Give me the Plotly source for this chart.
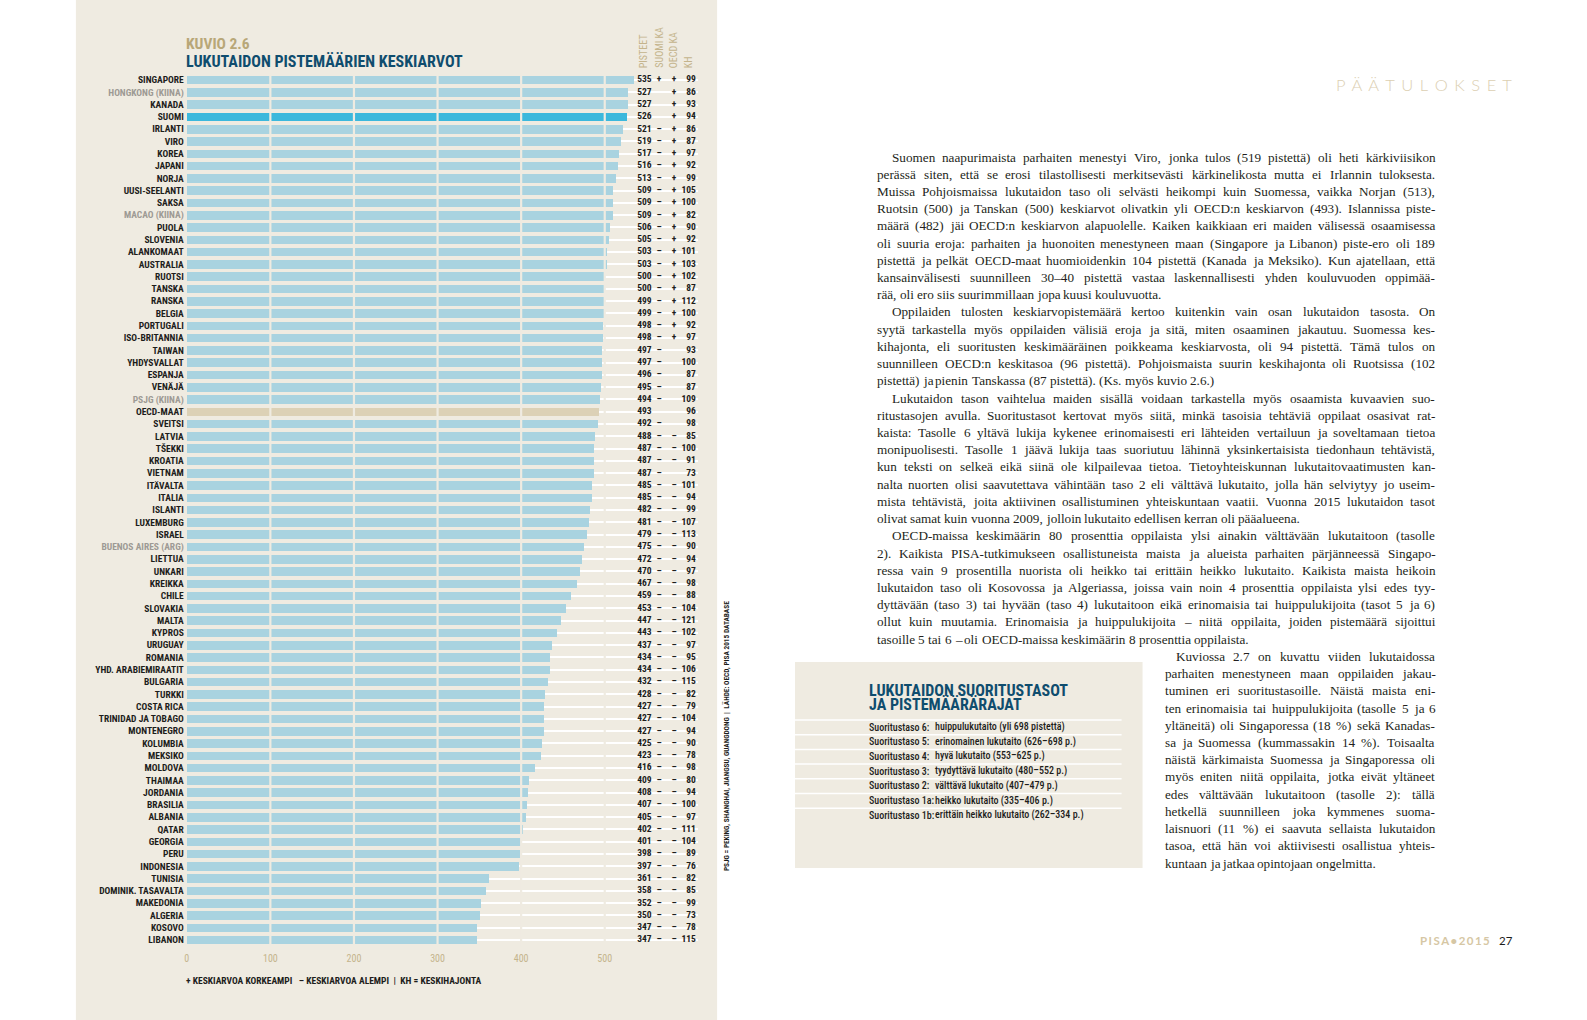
import plotly.graph_objects as go

# ---------------- data ----------------
countries = [
    "SINGAPORE", "HONGKONG (KIINA)", "KANADA", "SUOMI", "IRLANTI", "VIRO", "KOREA", "JAPANI",
    "NORJA", "UUSI-SEELANTI", "SAKSA", "MACAO (KIINA)", "PUOLA", "SLOVENIA", "ALANKOMAAT",
    "AUSTRALIA", "RUOTSI", "TANSKA", "RANSKA", "BELGIA", "PORTUGALI", "ISO-BRITANNIA",
    "TAIWAN", "YHDYSVALLAT", "ESPANJA", "VENÄJÄ", "PSJG (KIINA)", "OECD-MAAT", "SVEITSI",
    "LATVIA", "TŠEKKI", "KROATIA", "VIETNAM", "ITÄVALTA", "ITALIA", "ISLANTI", "LUXEMBURG",
    "ISRAEL", "BUENOS AIRES (ARG)", "LIETTUA", "UNKARI", "KREIKKA", "CHILE", "SLOVAKIA",
    "MALTA", "KYPROS", "URUGUAY", "ROMANIA", "YHD. ARABIEMIRAATIT", "BULGARIA", "TURKKI",
    "COSTA RICA", "TRINIDAD JA TOBAGO", "MONTENEGRO", "KOLUMBIA", "MEKSIKO", "MOLDOVA",
    "THAIMAA", "JORDANIA", "BRASILIA", "ALBANIA", "QATAR", "GEORGIA", "PERU", "INDONESIA",
    "TUNISIA", "DOMINIK. TASAVALTA", "MAKEDONIA", "ALGERIA", "KOSOVO", "LIBANON",
]
scores = [
    535, 527, 527, 526, 521, 519, 517, 516, 513, 509, 509, 509, 506, 505, 503, 503, 500, 500,
    499, 499, 498, 498, 497, 497, 496, 495, 494, 493, 492, 488, 487, 487, 487, 485, 485, 482,
    481, 479, 475, 472, 470, 467, 459, 453, 447, 443, 437, 434, 434, 432, 428, 427, 427, 427,
    425, 423, 416, 409, 408, 407, 405, 402, 401, 398, 397, 361, 358, 352, 350, 347, 347,
]
suomi_cmp = (["+", "", "", ""] + ["–"] * 23 + [""] + ["–"] * 43)
oecd_cmp = (["+"] * 22 + [""] * 7 + ["–"] * 3 + [""] + ["–"] * 38)
kh = [
    99, 86, 93, 94, 86, 87, 97, 92, 99, 105, 100, 82, 90, 92, 101, 103, 102, 87, 112, 100,
    92, 97, 93, 100, 87, 87, 109, 96, 98, 85, 100, 91, 73, 101, 94, 99, 107, 113, 90, 94,
    97, 98, 88, 104, 121, 102, 97, 95, 106, 115, 82, 79, 104, 94, 90, 78, 98, 80, 94, 100,
    97, 111, 104, 89, 76, 82, 85, 99, 73, 78, 115,
]
region_rows = ["HONGKONG (KIINA)", "MACAO (KIINA)", "PSJG (KIINA)", "BUENOS AIRES (ARG)"]
x_ticks = [0, 100, 200, 300, 400, 500]
column_headers = ["PISTEET", "SUOMI KA", "OECD KA", "KH"]

levels = ["Suoritustaso 6:", "Suoritustaso 5:", "Suoritustaso 4:", "Suoritustaso 3:",
          "Suoritustaso 2:", "Suoritustaso 1a:", "Suoritustaso 1b:"]
level_desc = ["huippulukutaito (yli 698 pistettä)", "erinomainen lukutaito (626–698 p.)",
              "hyvä lukutaito (553–625 p.)", "tyydyttävä lukutaito (480–552 p.)",
              "välttävä lukutaito (407–479 p.)", "heikko lukutaito (335–406 p.)",
              "erittäin heikko lukutaito (262–334 p.)"]

body_main = [
    "Suomen naapurimaista parhaiten menestyi Viro, jonka tulos (519 pistettä) oli heti kärkiviisikon",
    "perässä siten, että se erosi tilastollisesti merkitsevästi kärkinelikosta mutta ei Irlannin tuloksesta.",
    "Muissa Pohjoismaissa lukutaidon taso oli selvästi heikompi kuin Suomessa, vaikka Norjan (513),",
    "Ruotsin (500) ja Tanskan (500) keskiarvot olivatkin yli OECD:n keskiarvon (493). Islannissa piste-",
    "määrä (482) jäi OECD:n keskiarvon alapuolelle. Kaiken kaikkiaan eri maiden välisessä osaamisessa",
    "oli suuria eroja: parhaiten ja huonoiten menestyneen maan (Singapore ja Libanon) piste-ero oli 189",
    "pistettä ja pelkät OECD-maat huomioidenkin 104 pistettä (Kanada ja Meksiko). Kun ajatellaan, että",
    "kansainvälisesti suunnilleen 30–40 pistettä vastaa laskennallisesti yhden kouluvuoden oppimää-",
    "rää, oli ero siis suurimmillaan jopa kuusi kouluvuotta.",
    "Oppilaiden tulosten keskiarvopistemäärä kertoo kuitenkin vain osan lukutaidon tasosta. On",
    "syytä tarkastella myös oppilaiden välisiä eroja ja sitä, miten osaaminen jakautuu. Suomessa kes-",
    "kihajonta, eli suoritusten keskimääräinen poikkeama keskiarvosta, oli 94 pistettä. Tämä tulos on",
    "suunnilleen OECD:n keskitasoa (96 pistettä). Pohjoismaista suurin keskihajonta oli Ruotsissa (102",
    "pistettä) ja pienin Tanskassa (87 pistettä). (Ks. myös kuvio 2.6.)",
    "Lukutaidon tason vaihtelua maiden sisällä voidaan tarkastella myös osaamista kuvaavien suo-",
    "ritustasojen avulla. Suoritustasot kertovat myös siitä, minkä tasoisia tehtäviä oppilaat osasivat rat-",
    "kaista: Tasolle 6 yltävä lukija kykenee erinomaisesti eri lähteiden vertailuun ja soveltamaan tietoa",
    "monipuolisesti. Tasolle 1 jäävä lukija taas suoriutuu lähinnä yksinkertaisista tiedonhaun tehtävistä,",
    "kun teksti on selkeä eikä siinä ole kilpailevaa tietoa. Tietoyhteiskunnan lukutaitovaatimusten kan-",
    "nalta nuorten olisi saavutettava vähintään taso 2 eli välttävä lukutaito, jolla hän selviytyy jo useim-",
    "mista tehtävistä, joita aktiivinen osallistuminen yhteiskuntaan vaatii. Vuonna 2015 lukutaidon tasot",
    "olivat samat kuin vuonna 2009, jolloin lukutaito edellisen kerran oli pääalueena.",
    "OECD-maissa keskimäärin 80 prosenttia oppilaista ylsi ainakin välttävään lukutaitoon (tasolle",
    "2). Kaikista PISA-tutkimukseen osallistuneista maista ja alueista parhaiten pärjänneessä Singapo-",
    "ressa vain 9 prosentilla nuorista oli heikko tai erittäin heikko lukutaito. Kaikista maista heikoin",
    "lukutaidon taso oli Kosovossa ja Algeriassa, joissa vain noin 4 prosenttia oppilaista ylsi edes tyy-",
    "dyttävään (taso 3) tai hyvään (taso 4) lukutaitoon eikä erinomaisia tai huippulukijoita (tasot 5 ja 6)",
    "ollut kuin muutamia. Erinomaisia ja huippulukijoita – niitä oppilaita, joiden pistemäärä sijoittui",
    "tasoille 5 tai 6 – oli OECD-maissa keskimäärin 8 prosenttia oppilaista.",
]
main_par_first = [0, 9, 14, 22]
main_par_last = [8, 13, 21, 28]
body_side = [
    "Kuviossa 2.7 on kuvattu viiden lukutaidossa",
    "parhaiten menestyneen maan oppilaiden jakau-",
    "tuminen eri suoritustasoille. Näistä maista eni-",
    "ten erinomaisia tai huippulukijoita (tasolle 5 ja 6",
    "yltäneitä) oli Singaporessa (18 %) sekä Kanadas-",
    "sa ja Suomessa (kummassakin 14 %). Toisaalta",
    "näistä kärkimaista Suomessa ja Singaporessa oli",
    "myös eniten niitä oppilaita, jotka eivät yltäneet",
    "edes välttävään lukutaitoon (tasolle 2): tällä",
    "hetkellä suunnilleen joka kymmenes suoma-",
    "laisnuori (11 %) ei saavuta sellaista lukutaidon",
    "tasoa, että hän voi aktiivisesti osallistua yhteis-",
    "kuntaan ja jatkaa opintojaan ongelmitta.",
]

# ---------------- styling ----------------
W, H = 1587, 1020
COND = "Roboto Condensed, Open Sans Condensed, DejaVu Sans Condensed, Liberation Sans, sans-serif"
SERIF = "Liberation Serif, DejaVu Serif, serif"
PANEL = "#efebe1"
BAR = "#a9d3e0"
BAR_FI = "#3cb8dc"
BAR_OECD = "#dcd1b6"
TAN = "#c4b48c"
NAVY = "#0f4d6e"
GREY = "#9d9a94"
INK = "#1d1d1b"

# Times / Liberation Serif advance widths (1/1000 em) used to justify the body text
TW = dict(zip(" ,.():;-–%", [250, 250, 250, 333, 333, 278, 278, 333, 500, 833]))
TW.update(dict(zip("abcdefghijklmnopqrstuvwxyzäöå",
                   [444, 500, 444, 500, 444, 333, 500, 500, 278, 278, 500, 278, 778, 500, 500,
                    500, 500, 333, 389, 278, 500, 500, 722, 500, 500, 444, 444, 500, 444])))
TW.update(dict(zip("ABCDEFGHIJKLMNOPQRSTUVWXYZÄÖ",
                   [722, 667, 667, 722, 611, 556, 722, 722, 333, 389, 722, 611, 889, 722, 722,
                    556, 722, 667, 556, 611, 722, 722, 944, 722, 722, 611, 722, 722])))
TW.update({d: 500 for d in "0123456789"})


def px(x):
    return x / W


def py(y):
    return 1 - y / H


N = len(countries)
ROW0, STEP = 80.0, 12.286
y_top = ROW0 - STEP / 2
y_bot = ROW0 + (N - 1) * STEP + STEP / 2
X0, PXU, XMAX = 185.0, 0.837, 611
idx = list(range(N))

bar_colors = [BAR_FI if c == "SUOMI" else BAR_OECD if c == "OECD-MAAT" else BAR for c in countries]
tick_text = [f'<span style="color:{GREY}">{c}</span>' if c in region_rows else c for c in countries]

fig = go.Figure()
fig.add_trace(go.Bar(
    x=scores, y=idx, orientation="h", marker=dict(color=bar_colors, line=dict(width=0)),
    width=0.7, hoverinfo="skip", showlegend=False))

text_font = dict(family=COND, size=9.5, color=INK, weight=700)
for xs, txt, pos in [(556, [str(s) for s in scores], "middle left"),
                     (565, suomi_cmp, "middle center"),
                     (583, oecd_cmp, "middle center"),
                     (609, [str(k) for k in kh], "middle left")]:
    fig.add_trace(go.Scatter(x=[xs] * N, y=idx, mode="text", text=txt, textposition=pos,
                             textfont=text_font, cliponaxis=False, showlegend=False,
                             hoverinfo="skip"))

shapes = [
    dict(type="rect", xref="paper", yref="paper", x0=px(74), x1=px(716), y0=py(1020), y1=py(0),
         fillcolor=PANEL, line=dict(width=0), layer="below"),
    dict(type="rect", xref="paper", yref="paper", x0=px(794), x1=px(1142), y0=py(868), y1=py(662),
         fillcolor=PANEL, line=dict(width=0), layer="below"),
]
for t in x_ticks[1:]:
    shapes.append(dict(type="line", xref="x", yref="y", x0=t, x1=t, y0=-0.5, y1=N - 0.5,
                       line=dict(color=PANEL, width=2.2), layer="above"))
for i in range(len(levels)):
    yy = 720 + i * 14.7
    shapes.append(dict(type="line", xref="paper", yref="paper", x0=px(794), x1=px(1121),
                       y0=py(yy), y1=py(yy), line=dict(color="white", width=1.5), layer="below"))

ann = []
ann.append(dict(text="KUVIO 2.6", x=px(182), y=py(44.5), xanchor="left", yanchor="middle",
                font=dict(family=COND, size=15.5, color="#b8a778", weight=700)))
ann.append(dict(text="LUKUTAIDON PISTEMÄÄRIEN KESKIARVOT", x=px(182), y=py(61), xanchor="left",
                yanchor="middle", font=dict(family=COND, size=16, color=NAVY, weight=700)))
for h, hx in zip(column_headers, [643, 658, 673, 688]):
    ann.append(dict(text=h, x=px(hx), y=py(70), xanchor="center", yanchor="bottom", textangle=-90,
                    font=dict(family=COND, size=10, color=TAN)))
ann.append(dict(text="+ KESKIARVOA KORKEAMPI\u00a0\u00a0 – KESKIARVOA ALEMPI\u00a0\u00a0|\u00a0\u00a0KH = KESKIHAJONTA",
                x=px(182), y=py(980), xanchor="left", yanchor="middle",
                font=dict(family=COND, size=9.5, color=INK, weight=700)))
ann.append(dict(text="PSJG = PEKING, SHANGHAI, JIANGSU, GUANGDONG\u00a0\u00a0|\u00a0\u00a0LÄHDE: OECD, PISA 2015 DATABASE",
                x=px(725), y=py(736), xanchor="center", yanchor="middle", textangle=-90,
                font=dict(family=COND, size=7.3, color=INK, weight=700)))
# right page headings
ann.append(dict(text="P\u2009 Ä\u2009 Ä\u2009 T\u2009 U\u2009 L\u2009 O\u2009 K\u2009 S\u2009 E\u2009 T", x=px(1514), y=py(85),
                xanchor="right", yanchor="middle",
                font=dict(family="Lato, Open Sans, sans-serif", size=16.5, color="#dccfb2", weight=300)))
ann.append(dict(text="P\u2009I\u2009S\u2009A\u2009•\u20092\u20090\u20091\u20095", x=px(1492), y=py(940),
                xanchor="right", yanchor="middle",
                font=dict(family="Lato, Open Sans, sans-serif", size=11.5, color="#d6c7a4", weight=700)))
ann.append(dict(text="27", x=px(1497), y=py(940), xanchor="left", yanchor="middle",
                font=dict(family="Lato, Open Sans, sans-serif", size=11.5, color=INK)))

# justified body text, one annotation per word
FS = 13.2
LH = 17.22


def set_line(line, x_left, x_right, y, justify):
    words = line.split(" ")
    widths = [sum(TW.get(ch, 500) for ch in w) / 1000 * FS for w in words]
    if justify and len(words) > 1:
        gap = (x_right - x_left - sum(widths)) / (len(words) - 1)
    else:
        gap = 0.25 * FS
    x = x_left
    for w, wd in zip(words, widths):
        ann.append(dict(text=w, x=px(x), y=py(y), xanchor="left", yanchor="middle",
                        borderpad=0, borderwidth=0,
                        font=dict(family=SERIF, size=FS, color="#231f20")))
        x += wd + gap


MAIN_L, MAIN_R, SIDE_L, SIDE_R = 876, 1435, 1164, 1435
for k, line in enumerate(body_main):
    xl = MAIN_L + (15 if k in main_par_first else 0)
    set_line(line, xl, MAIN_R, 157 + k * LH, k not in main_par_last)
for k, line in enumerate(body_side):
    xl = SIDE_L + (11 if k == 0 else 0)
    set_line(line, xl, SIDE_R, 157 + (len(body_main) + k) * LH, k != len(body_side) - 1)

# box
ann.append(dict(text="LUKUTAIDON SUORITUSTASOT", x=px(866), y=py(690.5), xanchor="left",
                yanchor="middle", font=dict(family=COND, size=16, color=NAVY, weight=700)))
ann.append(dict(text="JA PISTEMÄÄRÄRAJAT", x=px(866), y=py(704.5), xanchor="left",
                yanchor="middle", font=dict(family=COND, size=16, color=NAVY, weight=700)))
for i, (lv, ds) in enumerate(zip(levels, level_desc)):
    yy = 727 + i * 14.7
    ann.append(dict(text=lv, x=px(866), y=py(yy), xanchor="left", yanchor="middle",
                    font=dict(family=COND, size=10, color=INK, weight=500)))
    ann.append(dict(text=ds, x=px(932), y=py(yy), xanchor="left", yanchor="middle",
                    font=dict(family=COND, size=10, color=INK, weight=500)))

for a in ann:
    a.update(xref="paper", yref="paper", showarrow=False)

fig.update_layout(
    width=W, height=H, autosize=False, margin=dict(l=0, r=0, t=0, b=0, pad=0),
    paper_bgcolor="white", plot_bgcolor="rgba(0,0,0,0)", bargap=0,
    shapes=shapes, annotations=ann,
    xaxis=dict(domain=[px(X0), px(X0 + XMAX * PXU)], range=[0, XMAX], tickvals=x_ticks,
               ticktext=[str(t) for t in x_ticks], showgrid=False, zeroline=False, showline=False,
               ticks="", ticklabelstandoff=5,
               tickfont=dict(family=COND, size=10, color=TAN)),
    yaxis=dict(domain=[py(y_bot), py(y_top)], range=[N - 0.5, -0.5], tickvals=idx,
               ticktext=tick_text, showgrid=True, gridcolor="white", gridwidth=2,
               zeroline=False, showline=False, ticks="", ticklabelstandoff=2,
               tickfont=dict(family=COND, size=9.5, color=INK, weight=700)),
)

fig.write_html("out.html", config={"displayModeBar": False},
               post_script="document.body.style.margin='0';document.body.style.overflow='hidden';")
